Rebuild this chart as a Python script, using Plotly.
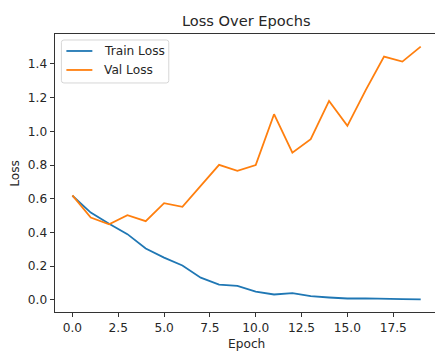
import plotly.graph_objects as go

epochs = list(range(20))
train_loss = [0.618, 0.518, 0.452, 0.390, 0.305, 0.251, 0.204, 0.132, 0.091, 0.083,
              0.049, 0.032, 0.040, 0.022, 0.014, 0.008, 0.009, 0.005, 0.005, 0.003]
val_loss = [0.620, 0.489, 0.449, 0.503, 0.467, 0.574, 0.552, 0.677, 0.801, 0.766,
            0.800, 1.102, 0.874, 0.954, 1.181, 1.033, 1.245, 1.444, 1.414, 1.503]
series_names = ["Train Loss", "Val Loss"]
series_colors = ["#1f77b4", "#ff7f0e"]

FONT = "DejaVu Sans"
TXT = "#262626"
W, H = 435, 352
L, T = 54.6, 33.5
B = H - 311.7
pw = W - L
ph = H - T - B


def px(x):
    return (x - L) / pw


def py(y):
    return (H - B - y) / ph


fig = go.Figure()
for name, vals, col in zip(series_names, [train_loss, val_loss], series_colors):
    fig.add_trace(go.Scatter(x=epochs, y=vals, mode="lines", name=name,
                             line=dict(color=col, width=1.8), showlegend=False))

axis_common = dict(showgrid=False, zeroline=False, showline=True, linecolor="#333",
                   linewidth=1, ticks="outside", ticklen=4.3, tickwidth=1,
                   tickcolor="#333", automargin=False,
                   tickfont=dict(family=FONT, size=12.2, color=TXT))

fig.update_layout(
    width=W, height=H,
    margin=dict(l=L, r=0, t=T, b=B, pad=0, autoexpand=False),
    paper_bgcolor="white", plot_bgcolor="white",
    font=dict(family=FONT, size=12.2, color=TXT),
    title=dict(text="Loss Over Epochs", x=(L + 438) / 2 / W, xanchor="center",
               y=1 - 21 / H, yanchor="middle", font=dict(size=14.6, color=TXT)),
    showlegend=False,
    xaxis=dict(range=[-0.95, 19.78], tick0=0, dtick=2.5, tickformat=".1f",
               mirror=True, **axis_common),
    yaxis=dict(range=[-0.072, 1.578], tick0=0, dtick=0.2, tickformat=".1f",
               mirror=False, **axis_common),
)

# axis titles
fig.add_annotation(text="Epoch", xref="paper", yref="paper",
                   x=px((L + 438) / 2), y=py(344),
                   xanchor="center", yanchor="middle", showarrow=False,
                   font=dict(size=12.2, family=FONT, color=TXT))
fig.add_annotation(text="Loss", xref="paper", yref="paper",
                   x=px(15), y=py(173), textangle=-90,
                   xanchor="center", yanchor="middle", showarrow=False,
                   font=dict(size=12.2, family=FONT, color=TXT))

# legend box (matplotlib style, rounded corners)
x0, x1, y0, y1, r = 61, 168.5, 39.5, 82.5, 2.5
path = (f"M {px(x0 + r)},{py(y0)} L {px(x1 - r)},{py(y0)} "
        f"Q {px(x1)},{py(y0)} {px(x1)},{py(y0 + r)} "
        f"L {px(x1)},{py(y1 - r)} Q {px(x1)},{py(y1)} {px(x1 - r)},{py(y1)} "
        f"L {px(x0 + r)},{py(y1)} Q {px(x0)},{py(y1)} {px(x0)},{py(y1 - r)} "
        f"L {px(x0)},{py(y0 + r)} Q {px(x0)},{py(y0)} {px(x0 + r)},{py(y0)} Z")
fig.add_shape(type="path", path=path, xref="paper", yref="paper",
              fillcolor="rgba(255,255,255,0.8)", line=dict(color="#d6d6d6", width=1),
              layer="above")
for i, (name, col) in enumerate(zip(series_names, series_colors)):
    yy = 50.5 + i * 19
    fig.add_shape(type="line", xref="paper", yref="paper",
                  x0=px(66), x1=px(92), y0=py(yy), y1=py(yy),
                  line=dict(color=col, width=1.8), layer="above")
    fig.add_annotation(text=name, xref="paper", yref="paper", x=px(101.5), y=py(yy),
                       xanchor="left", yanchor="middle", showarrow=False,
                       font=dict(size=12.2, family=FONT, color=TXT))

fig.write_html("out.html", config={"displayModeBar": False},
               post_script="document.body.style.margin='0';")
